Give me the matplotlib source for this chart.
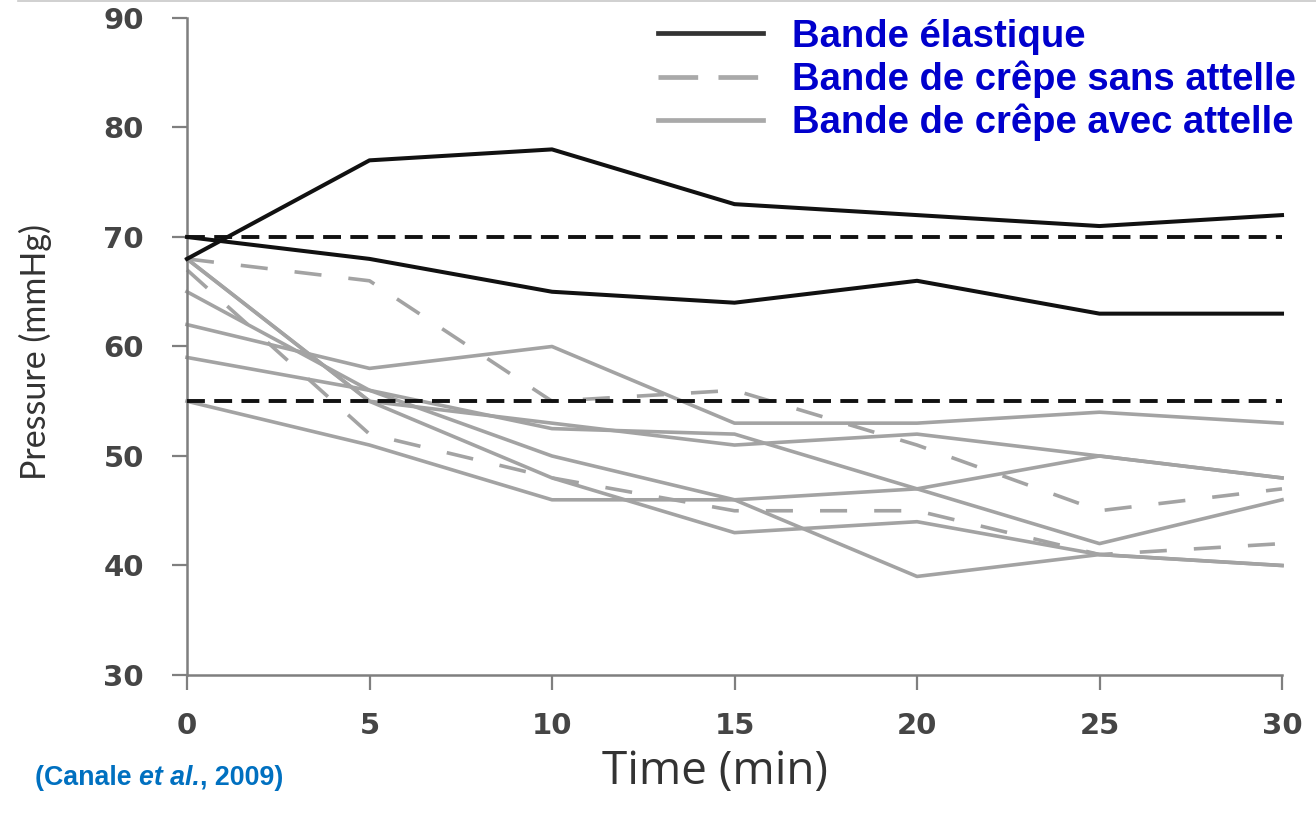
import matplotlib
matplotlib.use("Agg")
import matplotlib.pyplot as plt
from matplotlib.lines import Line2D

# Time points (min)
time = [0, 5, 10, 15, 20, 25, 30]

# Elastic bandage (two subjects)
elastic_1 = [68, 77, 78, 73, 72, 71, 72]
elastic_2 = [70, 68, 65, 64, 66, 63, 63]

# Crepe bandage without splint
crepe_sans_1 = [68, 66, 55, 56, 51, 45, 47]
crepe_sans_2 = [67, 52, 48, 45, 45, 41, 42]

# Crepe bandage with splint
crepe_avec_1 = [62, 58, 60, 53, 53, 54, 53]
crepe_avec_2 = [55, 51, 46, 46, 47, 50, 48]
crepe_avec_3 = [68, 55, 53, 51, 52, 50, 48]
crepe_avec_4 = [65, 56, 52.5, 52, 47, 42, 46]
crepe_avec_5 = [59, 56, 50, 46, 39, 41, 40]
crepe_avec_6 = [68, 55, 48, 43, 44, 41, 40]

# Target pressure band limits (mmHg)
reference_levels = [70, 55]

y_ticks = [30, 40, 50, 60, 70, 80, 90]
x_ticks = [0, 5, 10, 15, 20, 25, 30]

legend_labels = ["Bande élastique",
                 "Bande de crêpe sans attelle",
                 "Bande de crêpe avec attelle"]

BLACK = "#111111"
GRAY = "#a3a3a3"
AXIS = "#7f7f7f"
TICK_TEXT = "#454545"

fig = plt.figure(figsize=(13.16, 8.13), dpi=100)
ax = fig.add_axes([187 / 1316, 1 - 675 / 813, (1282 - 187) / 1316, (675 - 18) / 813])

for series in [crepe_avec_1, crepe_avec_2, crepe_avec_3,
               crepe_avec_4, crepe_avec_5, crepe_avec_6]:
    ax.plot(time, series, color=GRAY, lw=2.6, clip_on=False, zorder=2)

for series in [crepe_sans_1, crepe_sans_2]:
    ax.plot(time, series, color=GRAY, lw=2.6, dashes=(7.5, 7.5),
            clip_on=False, zorder=2)

for level in reference_levels:
    ax.plot([time[0], time[-1]], [level, level], color=BLACK, lw=2.8,
            dashes=(4.6, 2.4), zorder=3)

for series in [elastic_1, elastic_2]:
    ax.plot(time, series, color=BLACK, lw=2.9, clip_on=False, zorder=4)

ax.set_xlim(0, 30)
ax.set_ylim(30, 90)
ax.set_xticks(x_ticks)
ax.set_yticks(y_ticks)
ax.set_xticklabels([str(t) for t in x_ticks])
ax.set_yticklabels([str(t) for t in y_ticks])

for side in ["top", "right"]:
    ax.spines[side].set_visible(False)
for side in ["left", "bottom"]:
    ax.spines[side].set_color(AXIS)
    ax.spines[side].set_linewidth(1.8)

ax.tick_params(axis="both", direction="out", length=11, width=1.6,
               color=AXIS, labelcolor=TICK_TEXT)
ax.tick_params(axis="y", pad=20)
ax.tick_params(axis="x", pad=16)
for lab in ax.get_xticklabels() + ax.get_yticklabels():
    lab.set_fontfamily("DejaVu Sans")
    lab.set_fontweight("bold")
    lab.set_fontsize(21)

# Axis titles
fig.text(35 / 1316, 1 - 352 / 813, "Pressure (mmHg)", rotation=90,
         ha="center", va="center", fontsize=24.5, family="Lato",
         color="#333333")
fig.text(715 / 1316, 1 - 772 / 813, "Time (min)", ha="center", va="center",
         fontsize=33, family="Open Sans", color="#333333")

# Legend
handles = [
    Line2D([0], [0], color="#333333", lw=3.4),
    Line2D([0], [0], color="#a9a9a9", lw=3.4, dashes=(8.4, 4.3)),
    Line2D([0], [0], color="#a9a9a9", lw=3.4),
]
leg = ax.legend(handles, legend_labels, loc="upper left",
                bbox_to_anchor=(633 / 1316, 1 + 6 / 813),
                bbox_transform=fig.transFigure, frameon=False,
                borderpad=0.15, handlelength=2.75, handletextpad=0.76,
                labelspacing=0.15,
                prop={"family": "Liberation Sans", "weight": "bold",
                      "size": 27.5})
for txt in leg.get_texts():
    txt.set_color("#0000cc")

# Source citation
cite_kw = dict(va="center", ha="left", fontsize=19.3, family="Liberation Sans",
               weight="bold", color="#0070c0")
cite_y = 1 - 778 / 813
t1 = fig.text(35 / 1316, cite_y, "(Canale ", **cite_kw)
fig.canvas.draw()
renderer = fig.canvas.get_renderer()
bb = t1.get_window_extent(renderer)
t2 = fig.text(bb.x1 / 1316, cite_y, "et al.", style="italic", **cite_kw)
bb2 = t2.get_window_extent(renderer)
fig.text(bb2.x1 / 1316, cite_y, ", 2009)", **cite_kw)

# Thin rule along the top edge
fig.add_artist(Line2D([18 / 1316, 1], [0.999, 0.999],
                      transform=fig.transFigure, color="#c8c8c8", lw=1.2))

fig.savefig("out.png", dpi=100)
